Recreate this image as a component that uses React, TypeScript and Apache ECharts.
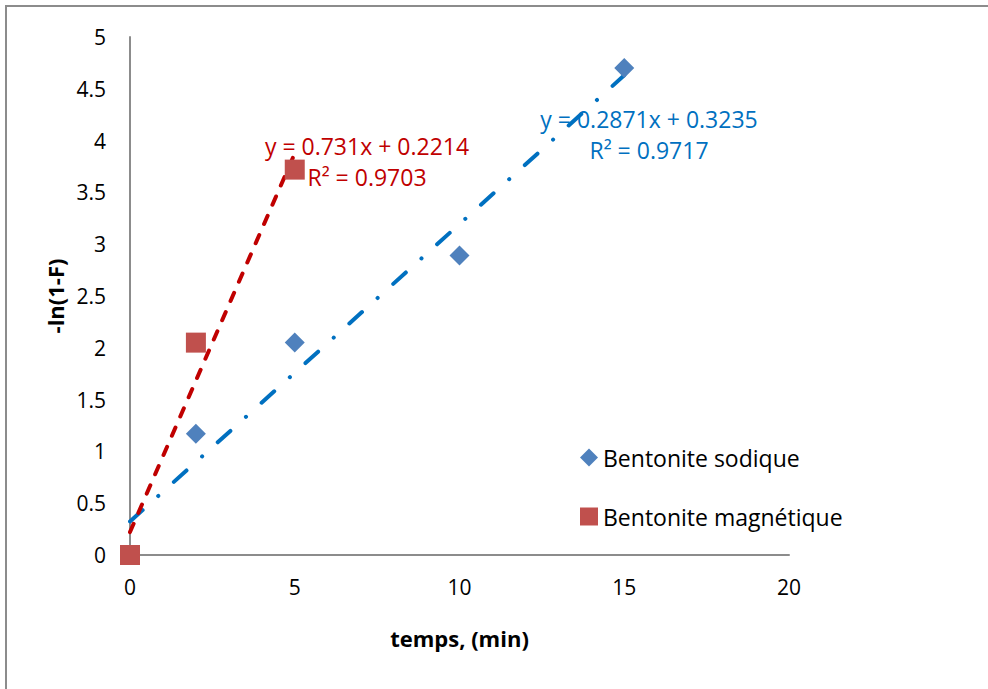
import React, { useEffect, useRef } from "react";
import * as echarts from "echarts";

// Measured points: time (min) vs -ln(1-F)
const sodiqueX = [0, 2, 5, 10, 15];
const sodiqueY = [0, 1.17, 2.05, 2.89, 4.7];
const magnetiqueX = [0, 2, 5];
const magnetiqueY = [0, 2.05, 3.72];

// Linear fits shown on the chart: [slope, intercept, R²]
const sodiqueFit = [0.2871, 0.3235, 0.9717];
const magnetiqueFit = [0.731, 0.2214, 0.9703];

const seriesNames = ["Bentonite sodique", "Bentonite magnétique"];
const xTicks = { min: 0, max: 20, interval: 5 };
const yTicks = { min: 0, max: 5, interval: 0.5 };

const BLUE_MARK = "#4F81BD";
const RED_MARK = "#C0504D";
const BLUE_LINE = "#0070C0";
const RED_LINE = "#C00000";
const FONT = "'Open Sans', 'Noto Sans', sans-serif";
const TICK_FS = 21;
const TITLE_FS = 22;
const TEXT_FS = 23;

function fitLine(xs: number[], fit: number[]) {
  const x0 = Math.min(...xs);
  const x1 = Math.max(...xs);
  return [
    [x0, fit[0] * x0 + fit[1]],
    [x1, fit[0] * x1 + fit[1]],
  ];
}

function eqText(fit: number[]) {
  return `y = ${fit[0]}x + ${fit[1]}\nR² = ${fit[2]}`;
}

export default function App() {
  const ref = useRef<HTMLDivElement>(null);

  useEffect(() => {
    if (!ref.current) return;
    const chart = echarts.init(ref.current, null, { renderer: "svg" });
    const zip = (xs: number[], ys: number[]) => xs.map((x, i) => [x, ys[i]]);

    chart.setOption({
      animation: false,
      backgroundColor: "#fff",
      textStyle: { fontFamily: FONT },
      grid: { left: 130, right: 199, top: 37, bottom: 134 },
      legend: {
        data: [
          { name: seriesNames[0], icon: "diamond" },
          { name: seriesNames[1], icon: "rect" },
        ],
        orient: "vertical",
        left: 575,
        top: 441,
        itemWidth: 18,
        itemHeight: 18,
        itemGap: 36,
        textStyle: { fontFamily: FONT, fontSize: TEXT_FS, lineHeight: 18, color: "#000" },
      },
      xAxis: {
        type: "value",
        ...xTicks,
        name: "temps, (min)",
        nameLocation: "middle",
        nameGap: 72,
        nameTextStyle: { fontFamily: FONT, fontSize: TITLE_FS, fontWeight: "bold", color: "#000" },
        axisLine: { show: true, lineStyle: { color: "#8c8c8c", width: 2 } },
        axisTick: { show: false },
        splitLine: { show: false },
        axisLabel: { fontFamily: FONT, fontSize: TICK_FS, color: "#000", margin: 21 },
      },
      yAxis: {
        type: "value",
        ...yTicks,
        name: "-ln(1-F)",
        nameLocation: "middle",
        nameGap: 63,
        nameTextStyle: { fontFamily: FONT, fontSize: TITLE_FS, fontWeight: "bold", color: "#000" },
        axisLine: { show: true, lineStyle: { color: "#8c8c8c", width: 2 } },
        axisTick: { show: false },
        splitLine: { show: false },
        axisLabel: { fontFamily: FONT, fontSize: TICK_FS, color: "#000", margin: 24 },
      },
      series: [
        {
          name: "fit sodique",
          type: "line",
          data: fitLine(sodiqueX, sodiqueFit),
          symbol: "none",
          z: 1,
          lineStyle: { color: BLUE_LINE, width: 4, type: [17, 21, 0.1, 21], cap: "round" },
        },
        {
          name: "fit magnetique",
          type: "line",
          data: fitLine(magnetiqueX, magnetiqueFit),
          symbol: "none",
          z: 1,
          lineStyle: { color: RED_LINE, width: 4, type: [9, 12], cap: "round" },
        },
        {
          name: seriesNames[0],
          type: "scatter",
          data: zip(sodiqueX, sodiqueY),
          symbol: "diamond",
          symbolSize: 20,
          itemStyle: { color: BLUE_MARK, opacity: 1 },
          z: 3,
        },
        {
          name: seriesNames[1],
          type: "scatter",
          data: zip(magnetiqueX, magnetiqueY),
          symbol: "rect",
          symbolSize: 20,
          itemStyle: { color: RED_MARK, opacity: 1 },
          z: 4,
          clip: false,
        },
      ],
      graphic: [
        {
          type: "polyline",
          shape: { points: [[988, 6], [6, 6], [6, 689]] },
          style: { stroke: "#8c8c8c", lineWidth: 2, fill: "none" },
          silent: true,
        },
        {
          type: "text",
          x: 367,
          y: 130,
          style: {
            text: eqText(magnetiqueFit),
            fill: RED_LINE,
            font: `${TEXT_FS}px ${FONT}`,
            align: "center",
            lineHeight: 31,
          },
        },
        {
          type: "text",
          x: 649,
          y: 103,
          style: {
            text: eqText(sodiqueFit),
            fill: BLUE_LINE,
            font: `${TEXT_FS}px ${FONT}`,
            align: "center",
            lineHeight: 31,
          },
        },
      ],
    });

    return () => chart.dispose();
  }, []);

  return (
    <div
      ref={ref}
      style={{ position: "absolute", left: 0, top: 0, width: 988, height: 689 }}
    />
  );
}
